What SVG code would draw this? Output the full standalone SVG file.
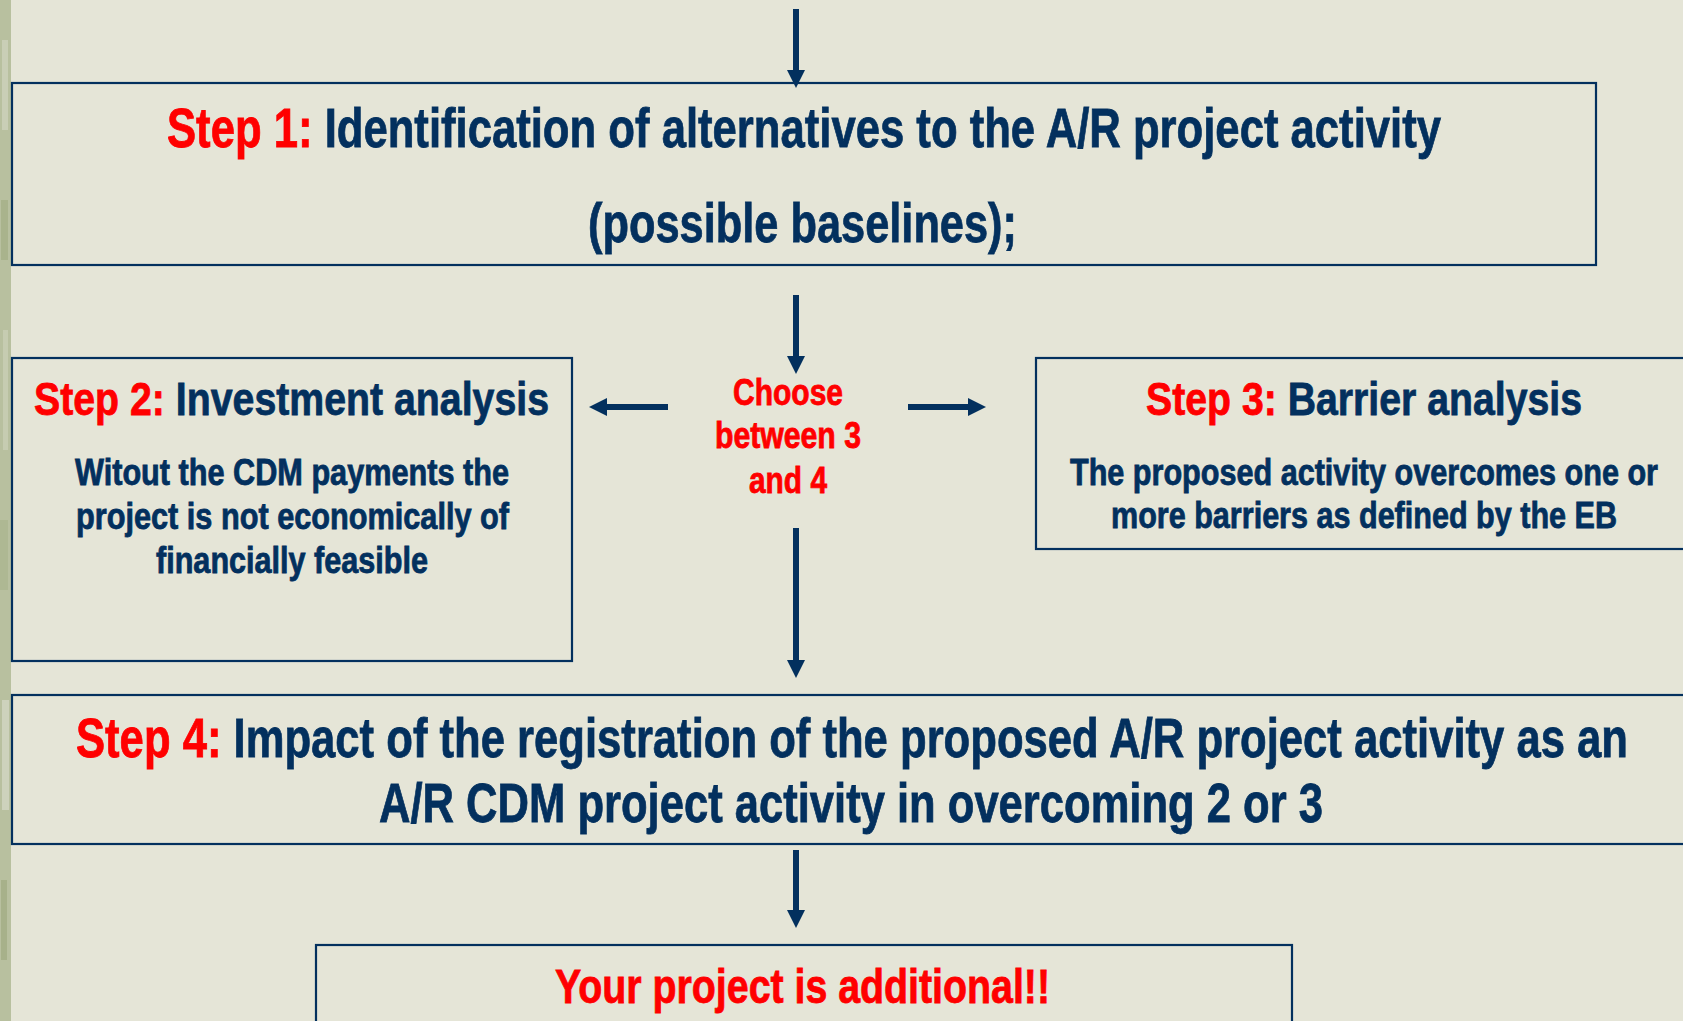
<svg xmlns="http://www.w3.org/2000/svg" width="1683" height="1021" viewBox="0 0 1683 1021">
<style>
.box{fill:none;stroke:#03305E;stroke-width:2.2}
.t{font-family:"Liberation Sans Narrow","Liberation Sans",Arial,sans-serif;font-weight:bold;text-anchor:start;stroke-width:0.8}
.n{fill:#03305E;stroke:#03305E}
.r{fill:#FF0000;stroke:#FF0000}
.con{stroke:#03305E;stroke-width:6;fill:none;marker-end:url(#ah)}
</style>
<defs>
<marker id="ah" markerUnits="userSpaceOnUse" markerWidth="18" markerHeight="18" refX="1" refY="9" orient="auto">
<path d="M0,0 L18,9 L0,18 Z" fill="#03305E"/>
</marker>
</defs>
<rect x="0" y="0" width="1683" height="1021" fill="#E5E5D7"/>
<g id="leftstrip">
<rect x="0" y="0" width="11" height="1021" fill="#B8C09F"/>
<rect x="2" y="40" width="6" height="90" fill="#C9CEB6"/>
<rect x="1" y="200" width="7" height="60" fill="#A9B38C"/>
<rect x="3" y="330" width="5" height="120" fill="#C6CCB1"/>
<rect x="0" y="520" width="8" height="70" fill="#AEB893"/>
<rect x="2" y="700" width="7" height="110" fill="#CDD2BC"/>
<rect x="1" y="880" width="6" height="80" fill="#A7B18A"/>
</g>
<g id="connectors">
<line class="con" x1="796" y1="9" x2="796" y2="71"/>
<line class="con" x1="796" y1="295" x2="796" y2="357"/>
<line class="con" x1="668" y1="407" x2="606" y2="407"/>
<line class="con" x1="908" y1="407" x2="969" y2="407"/>
<line class="con" x1="796" y1="528" x2="796" y2="661"/>
<line class="con" x1="796" y1="850" x2="796" y2="911"/>
</g>
<g id="step1">
<rect class="box" x="12" y="83" width="1584" height="182"/>
<text class="t" x="167" y="147" font-size="55" textLength="1274" lengthAdjust="spacingAndGlyphs"><tspan class="r">Step 1: </tspan><tspan class="n">Identification of alternatives to the A/R project activity</tspan></text>
<text class="t n" x="588" y="242" font-size="55" textLength="429" lengthAdjust="spacingAndGlyphs">(possible baselines);</text>
</g>
<g id="step2">
<rect class="box" x="12" y="358" width="560" height="303"/>
<text class="t" x="34" y="415" font-size="47" textLength="515" lengthAdjust="spacingAndGlyphs"><tspan class="r">Step 2: </tspan><tspan class="n">Investment analysis</tspan></text>
<text class="t n" x="75" y="485" font-size="36" textLength="434" lengthAdjust="spacingAndGlyphs">Witout the CDM payments the</text>
<text class="t n" x="76" y="529" font-size="36" textLength="433" lengthAdjust="spacingAndGlyphs">project is not economically of</text>
<text class="t n" x="156" y="573" font-size="36" textLength="272" lengthAdjust="spacingAndGlyphs">financially feasible</text>
</g>
<g id="choose">
<text class="t r" x="733" y="405" font-size="36" textLength="110" lengthAdjust="spacingAndGlyphs">Choose</text>
<text class="t r" x="715" y="448" font-size="36" textLength="146" lengthAdjust="spacingAndGlyphs">between 3</text>
<text class="t r" x="749" y="493" font-size="36" textLength="78" lengthAdjust="spacingAndGlyphs">and 4</text>
</g>
<g id="step3">
<rect class="box" x="1036" y="358" width="700" height="191"/>
<text class="t" x="1146" y="415" font-size="47" textLength="436" lengthAdjust="spacingAndGlyphs"><tspan class="r">Step 3: </tspan><tspan class="n">Barrier analysis</tspan></text>
<text class="t n" x="1070" y="485" font-size="36" textLength="588" lengthAdjust="spacingAndGlyphs">The proposed activity overcomes one or</text>
<text class="t n" x="1111" y="528" font-size="36" textLength="506" lengthAdjust="spacingAndGlyphs">more barriers as defined by the EB</text>
</g>
<g id="step4">
<rect class="box" x="12" y="695" width="1720" height="149"/>
<text class="t" x="76" y="757" font-size="55" textLength="1552" lengthAdjust="spacingAndGlyphs"><tspan class="r">Step 4: </tspan><tspan class="n">Impact of the registration of the proposed A/R project activity as an</tspan></text>
<text class="t n" x="379" y="822" font-size="55" textLength="944" lengthAdjust="spacingAndGlyphs">A/R CDM project activity in overcoming 2 or 3</text>
</g>
<g id="result">
<rect class="box" x="316" y="945" width="976" height="100"/>
<text class="t r" x="555" y="1003" font-size="48" textLength="495" lengthAdjust="spacingAndGlyphs">Your project is additional!!</text>
</g>
</svg>
